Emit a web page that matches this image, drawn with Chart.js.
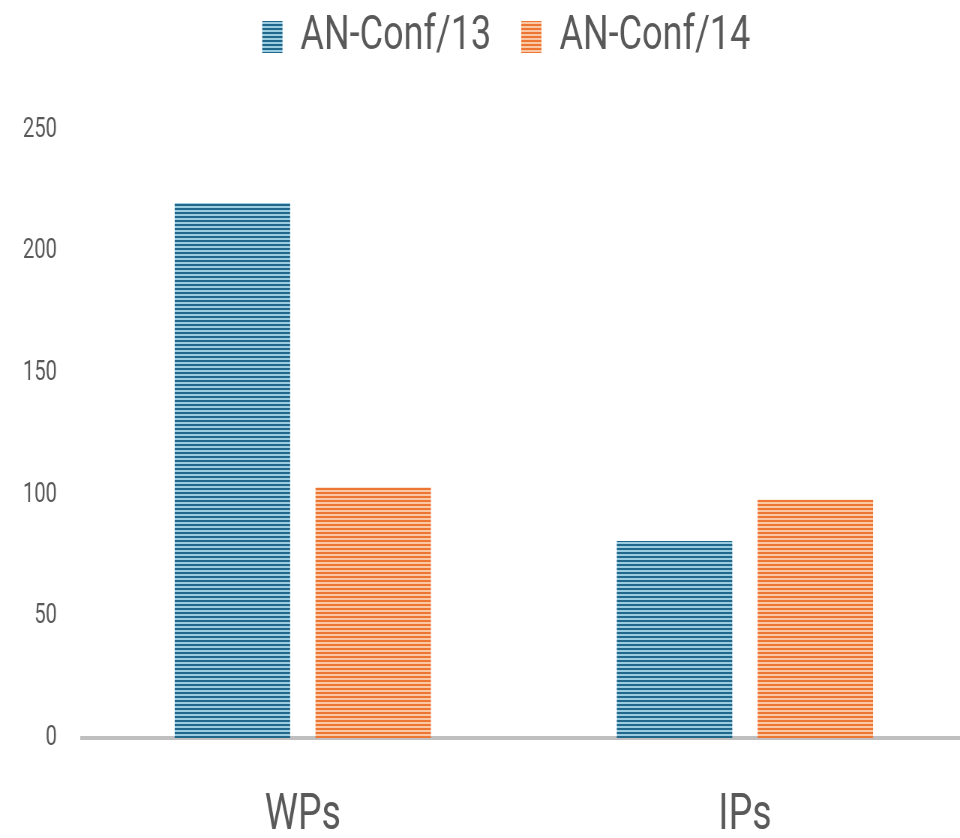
<!DOCTYPE html>
<html>
<head>
<meta charset="utf-8">
<script src="https://cdn.jsdelivr.net/npm/chart.js@4.4.1/dist/chart.umd.min.js"></script>
<style>
  html, body { margin: 0; padding: 0; background: #fff; overflow: hidden; }
  #wrap { width: 960px; height: 838px; overflow: hidden; }
</style>
</head>
<body>
<div id="wrap">
  <!-- drawn wider then squeezed, so the text looks condensed like the original;
       the plot runs a little past the right edge as in the picture -->
  <canvas id="barChart" width="1288" height="838" style="width:966px;height:838px;display:block"></canvas>
</div>
<script>
const categories = ['WPs', 'IPs'];
const seriesNames = ['AN-Conf/13', 'AN-Conf/14'];
const conf13 = [220, 81];
const conf14 = [103, 98];
const yTicks = [0, 50, 100, 150, 200, 250];

// striped fill like the original
function stripes(dark, light) {
  let c = document.createElement('canvas');
  c.width = 4; c.height = 4;
  let g = c.getContext('2d');
  g.fillStyle = light;
  g.fillRect(0, 0, 4, 4);
  g.fillStyle = dark;
  g.fillRect(0, 0, 4, 2);
  return g.createPattern(c, 'repeat');
}

const fontFam = 'Roboto, "Liberation Sans", sans-serif';

// make room under the legend and nudge it into place
const legendSpace = {
  id: 'legendSpace',
  beforeInit(chart) {
    const fit = chart.legend.fit;
    chart.legend.fit = function() {
      fit.bind(chart.legend)();
      this.height = 130;
    };
  },
  beforeDraw(chart) {
    if (!chart.legend._shifted) {
      chart.legend.left += 31;
      chart.legend.right += 31;
      chart.legend.top -= 27;
      chart.legend._shifted = true;
    }
  }
};

let ctx = document.getElementById('barChart').getContext('2d');
let barChart = new Chart(ctx, {
  type: 'bar',
  data: {
    labels: categories,
    datasets: [{
      label: seriesNames[0],
      data: conf13,
      backgroundColor: stripes('#22668a', '#9accE2'),
      borderWidth: 0
    }, {
      label: seriesNames[1],
      data: conf14,
      backgroundColor: stripes('#ee7634', '#fac8a4'),
      borderWidth: 0
    }]
  },
  plugins: [legendSpace],
  options: {
    responsive: false,
    animation: false,
    categoryPercentage: 0.637,
    barPercentage: 0.82,
    layout: { padding: 0 },
    plugins: {
      tooltip: { enabled: false },
      legend: {
        position: 'top',
        labels: {
          color: '#595959',
          font: { family: fontFam, size: 48 },
          boxWidth: 27,
          boxHeight: 32,
          padding: 40
        }
      }
    },
    scales: {
      x: {
        afterFit: function(axis) { axis.height = 100; },
        grid: { display: false },
        border: { display: true, color: '#bfbfbf', width: 4 },
        ticks: {
          color: '#595959',
          font: { family: fontFam, size: 50, lineHeight: 0.8 },
          padding: 50
        }
      },
      y: {
        min: 0,
        max: 250,
        afterFit: function(axis) { axis.width = 109; },
        afterBuildTicks: function(axis) {
          axis.ticks = yTicks.map(v => ({ value: v }));
        },
        grid: { display: false },
        border: { display: false },
        ticks: {
          color: '#595959',
          font: { family: fontFam, size: 27 },
          padding: 25
        }
      }
    }
  }
});
</script>
</body>
</html>
